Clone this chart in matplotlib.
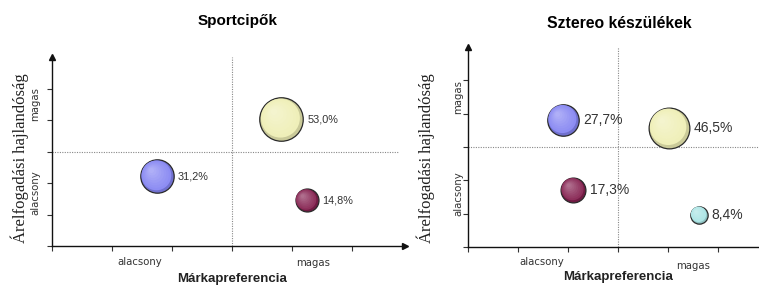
import matplotlib
matplotlib.use("Agg")
import matplotlib.pyplot as plt
from matplotlib.colors import to_rgb
from matplotlib.transforms import offset_copy
import numpy as np

# ---------------- data ----------------
titles = ["Sportcipők", "Sztereo készülékek"]
x_label = "Márkapreferencia"
y_label = "Árelfogadási hajlandóság"
level_labels = ["alacsony", "magas"]

left_x = [3.82, 1.75, 4.24]
left_y = [4.03, 2.22, 1.46]
left_values = [53.0, 31.2, 14.8]
left_colors = ["#EEEEB4", "#8484F2", "#84204F"]

right_x = [1.90, 4.02, 2.10, 4.62]
right_y = [3.82, 3.58, 1.72, 0.97]
right_values = [27.7, 46.5, 17.3, 8.4]
right_colors = ["#8484F2", "#EEEEB4", "#84204F", "#A8E4E4"]

W, H = 759, 285
fig = plt.figure(figsize=(W / 100, H / 100), dpi=100)
fig.patch.set_facecolor("white")


def px_axes(x0, x1, y_top, y_bot):
    return fig.add_axes([x0 / W, (H - y_bot) / H, (x1 - x0) / W, (y_bot - y_top) / H])


def fmt(v):
    return f"{v:.1f}".replace(".", ",") + "%"


def mix(c, t):
    r = np.array(to_rgb(c))
    return tuple(r + (1 - r) * t)


def shade(c, t):
    r = np.array(to_rgb(c))
    return tuple(r * (1 - t))


def bubbles(ax, xs, ys, vals, cols, label_fs):
    k = 18.5
    for x, y, v, c in zip(xs, ys, vals, cols):
        s = k * v
        r_pt = np.sqrt(s) / 2
        ax.scatter([x], [y], s=s, color=shade(c, 0.15), edgecolor="#2a2a2a",
                   linewidth=0.9, zorder=3)
        n = 8
        for i in range(1, n + 1):
            f = 1 - i / (n + 1.5)
            off = (1 - f) * r_pt * 0.4
            tr = offset_copy(ax.transData, fig=fig, x=-off, y=off, units="points")
            ax.scatter([x], [y], s=s * f * f, color=mix(c, 0.03 + 0.32 * i / n),
                       edgecolor="none", transform=tr, zorder=3 + i * 0.01)
        ax.annotate(fmt(v), (x, y), xytext=(r_pt + 3, 0), textcoords="offset points",
                    va="center", ha="left", fontsize=label_fs, color="#333333",
                    family="Liberation Sans", zorder=5)


def setup(ax, xmax, hline_end, arrow_x):
    ax.set_xlim(0, xmax)
    ax.set_ylim(0, 6)
    for s in ["top", "right"]:
        ax.spines[s].set_visible(False)
    for s in ["left", "bottom"]:
        ax.spines[s].set_linewidth(1.0)
        ax.spines[s].set_color("#111111")
    ax.set_xticks(range(0, 6))
    ax.set_yticks(range(0, 6))
    ax.set_xticklabels([])
    ax.set_yticklabels([])
    ax.tick_params(direction="out", length=3.5, width=0.8, color="#333333")
    ax.plot([0, hline_end], [3, 3], ls=(0, (1, 1.2)), color="#888888", lw=0.8, zorder=1)
    ax.plot([3, 3], [0, 6], ls=(0, (1, 1.2)), color="#888888", lw=0.8, zorder=1)
    ax.plot([0], [6], marker="^", ms=4, color="#111111", clip_on=False, zorder=6)
    if arrow_x:
        ax.plot([xmax], [0], marker=">", ms=4, color="#111111", clip_on=False, zorder=6)
    ax.patch.set_alpha(0)


# ---------------- left chart ----------------
axL = px_axes(52, 405, 57, 246)
setup(axL, 5.88, 5.77, True)
bubbles(axL, left_x, left_y, left_values, left_colors, 7.8)
axL.text(1.47, -0.085, level_labels[0], transform=axL.get_xaxis_transform(),
         ha="center", va="center", fontsize=7.3, color="#333333")
axL.text(4.35, -0.09, level_labels[1], transform=axL.get_xaxis_transform(),
         ha="center", va="center", fontsize=7.3, color="#333333")
axL.text(-0.048, 4.5, level_labels[1], transform=axL.get_yaxis_transform(),
         ha="center", va="center", rotation=90, fontsize=7.3, color="#333333")
axL.text(-0.048, 1.7, level_labels[0], transform=axL.get_yaxis_transform(),
         ha="center", va="center", rotation=90, fontsize=7.3, color="#333333")

# ---------------- right chart ----------------
axR = px_axes(468, 759, 47, 247)
setup(axR, 5.82, 5.82, False)
bubbles(axR, right_x, right_y, right_values, right_colors, 10)
axR.text(1.48, -0.075, level_labels[0], transform=axR.get_xaxis_transform(),
         ha="center", va="center", fontsize=7.3, color="#333333")
axR.text(4.5, -0.095, level_labels[1], transform=axR.get_xaxis_transform(),
         ha="center", va="center", fontsize=7.3, color="#333333")
axR.text(-0.034, 4.5, level_labels[1], transform=axR.get_yaxis_transform(),
         ha="center", va="center", rotation=90, fontsize=7.3, color="#333333")
axR.text(-0.034, 1.6, level_labels[0], transform=axR.get_yaxis_transform(),
         ha="center", va="center", rotation=90, fontsize=7.3, color="#333333")

# ---------------- titles and axis names ----------------
fig.text(238 / W, 1 - 21 / H, titles[0], ha="center", va="center",
         fontsize=11, fontweight="bold", family="Liberation Sans")
fig.text(619 / W, 1 - 23 / H, titles[1], ha="center", va="center",
         fontsize=11.3, fontweight="bold", family="Liberation Sans")
fig.text(232 / W, 1 - 279 / H, x_label, ha="center", va="center",
         fontsize=9.5, fontweight="bold", family="Liberation Sans", color="#222222")
fig.text(618 / W, 1 - 277 / H, x_label, ha="center", va="center",
         fontsize=9.5, fontweight="bold", family="Liberation Sans", color="#222222")
fig.text(20 / W, 1 - 158 / H, y_label, ha="center", va="center", rotation=90,
         fontsize=12, family="Liberation Serif", color="#222222")
fig.text(426 / W, 1 - 158 / H, y_label, ha="center", va="center", rotation=90,
         fontsize=12, family="Liberation Serif", color="#222222")

fig.savefig("out.png", dpi=100, facecolor="white")
